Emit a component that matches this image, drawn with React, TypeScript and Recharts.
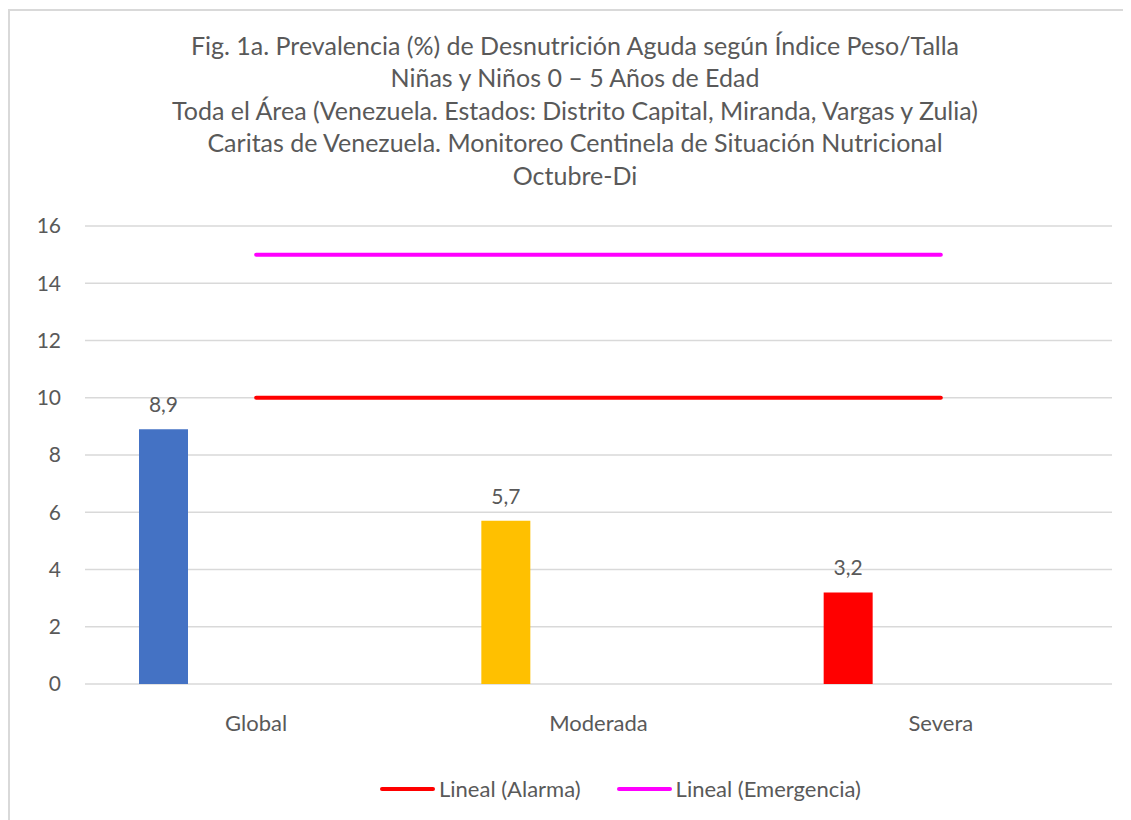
import React from "react";
import {
  ComposedChart, Bar, Line, XAxis, YAxis, CartesianGrid, Legend, LabelList, Cell,
} from "recharts";

const categorias = ["Global", "Moderada", "Severa"];
const valores = [8.9, 5.7, 3.2];
const alarma = [10, 10, 10];
const emergencia = [15, 15, 15];
const coloresBarras = ["#4472C4", "#FFC000", "#FF0000"];
const ticksY = [0, 2, 4, 6, 8, 10, 12, 14, 16];

const titulo = [
  "Fig. 1a. Prevalencia (%) de Desnutrición Aguda según Índice Peso/Talla",
  "Niñas y Niños 0 – 5 Años de Edad",
  "Toda el Área (Venezuela. Estados: Distrito Capital, Miranda, Vargas y Zulia)",
  "Caritas de Venezuela. Monitoreo Centinela de Situación Nutricional",
  "Octubre-Di",
];

const data = categorias.map((c, i) => ({
  categoria: c,
  valor: valores[i],
  alarma: alarma[i],
  emergencia: emergencia[i],
}));

const textColor = "#595959";
const font = "Lato, 'Open Sans', sans-serif";

const coma = (v: any) => String(v).replace(".", ",");

function Leyenda(props: any) {
  const items = (props.payload ?? []).filter((p: any) => p.type !== "none");
  return (
    <div style={{ display: "flex", alignItems: "center", marginLeft: 370, gap: 36 }}>
      {items.map((p: any) => (
        <div key={p.value} style={{ display: "flex", alignItems: "center", gap: 4 }}>
          <span style={{ width: 55, height: 4, borderRadius: 2, background: p.color, display: "inline-block" }} />
          <span style={{ fontSize: 22, color: textColor, lineHeight: "26px" }}>{p.value}</span>
        </div>
      ))}
    </div>
  );
}

export default function App() {
  return (
    <div
      style={{
        position: "relative",
        top: 1,
        width: 1121,
        height: 830,
        border: "2px solid #d9d9d9",
        background: "#fff",
        fontFamily: font,
      }}
    >
      <div
        style={{
          position: "absolute",
          top: 18,
          left: 0,
          width: 1121,
          textAlign: "center",
          fontSize: 25,
          lineHeight: "32.4px",
          color: textColor,
          paddingLeft: 9,
          boxSizing: "border-box",
        }}
      >
        {titulo.map((t) => (
          <div key={t}>{t}</div>
        ))}
      </div>
      <div style={{ position: "absolute", top: 0, left: 0 }}>
        <ComposedChart
          width={1121}
          height={810}
          data={data}
          margin={{ top: 215, right: 19, bottom: 97, left: 15 }}
          barGap={44}
        >
          <CartesianGrid vertical={false} stroke="#d9d9d9" strokeWidth={1.5} />
          <XAxis
            dataKey="categoria"
            axisLine={false}
            tickLine={false}
            tickSize={0}
            tickMargin={31}
            height={40}
            tick={{ fontSize: 22, fill: textColor }}
          />
          <YAxis
            domain={[0, 16]}
            ticks={ticksY}
            width={60}
            axisLine={false}
            tickLine={false}
            tickSize={0}
            tickMargin={24}
            tick={{ fontSize: 21, fill: textColor }}
          />
          <Legend
            layout="horizontal"
            verticalAlign="middle"
            align="center"
            wrapperStyle={{ top: 765, left: 0, width: 1121 }}
            content={<Leyenda />}
          />
          <Bar dataKey="valor" barSize={49} legendType="none" isAnimationActive={false}>
            {data.map((d, i) => (
              <Cell key={d.categoria} fill={coloresBarras[i]} />
            ))}
            <LabelList dataKey="valor" position="top" offset={17} formatter={coma} fontSize={21} fill={textColor} />
          </Bar>
          <Bar dataKey="alarma" barSize={49} fillOpacity={0} legendType="none" isAnimationActive={false} />
          <Bar dataKey="emergencia" barSize={49} fillOpacity={0} legendType="none" isAnimationActive={false} />
          <Line
            dataKey="alarma"
            name="Lineal (Alarma)"
            stroke="#FF0000"
            strokeWidth={4}
            strokeLinecap="round"
            dot={false}
            activeDot={false}
            legendType="plainline"
            isAnimationActive={false}
          />
          <Line
            dataKey="emergencia"
            name="Lineal (Emergencia)"
            stroke="#FF00FF"
            strokeWidth={4}
            strokeLinecap="round"
            dot={false}
            activeDot={false}
            legendType="plainline"
            isAnimationActive={false}
          />
        </ComposedChart>
      </div>
    </div>
  );
}
